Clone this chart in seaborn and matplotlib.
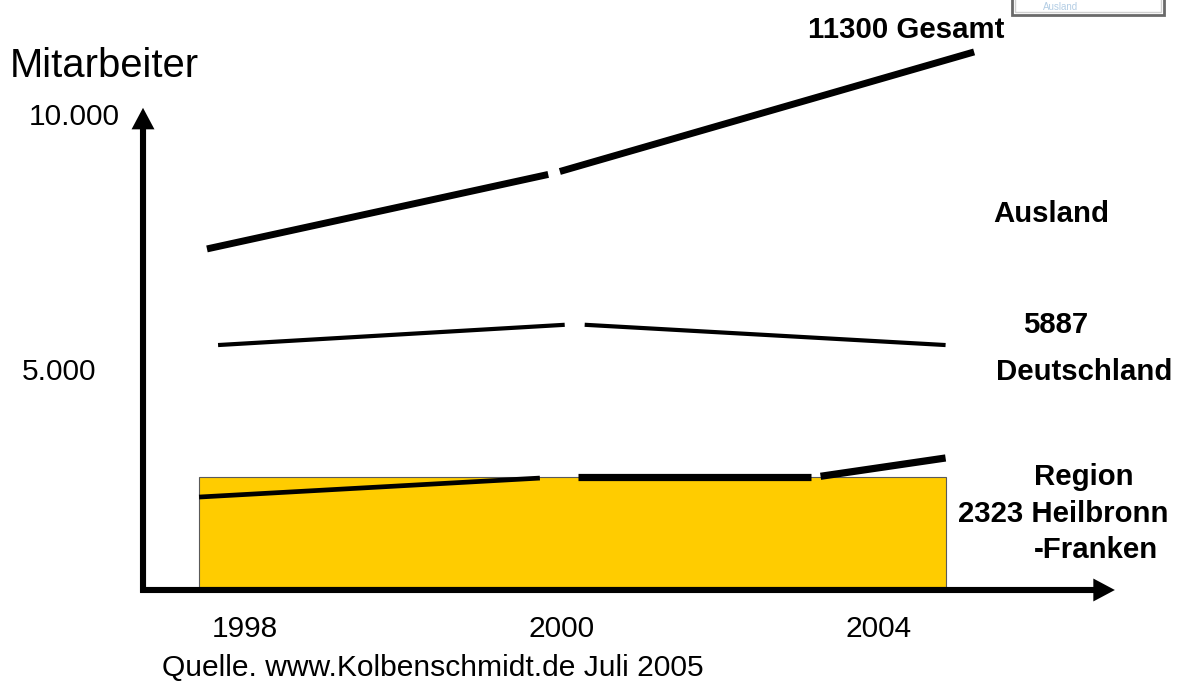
import numpy as np
import matplotlib
matplotlib.use("Agg")
import matplotlib.pyplot as plt
from matplotlib.patches import Rectangle
import seaborn as sns

# ---- data -------------------------------------------------------------
years = ["1998", "2000", "2004"]
year_pos = [0, 1, 2]

gesamt_x = [-0.12, 0.975, 2.30]
gesamt_y = [7140, 8740, 11300]

deutschland_x = [-0.085, 1.04, 2.21]
deutschland_y = [5110, 5550, 5110]
deutschland_total = 5887

region_x = [-0.145, 0.99, 1.80, 2.21]
region_y = [1900, 2323, 2323, 2725]
region_total = 2323
region_span = [-0.145, 2.21]

y_tick_values = [10000, 5000]
y_tick_labels = ["10.000", "5.000"]

# ---- figure -----------------------------------------------------------
sns.set_theme(style="white")
plt.rcParams["font.family"] = ["Liberation Sans", "DejaVu Sans"]
plt.rcParams["text.color"] = "black"

W, H = 1182, 682
fig = plt.figure(figsize=(W / 100, H / 100), dpi=100)
ax = fig.add_axes([0, 0, 1, 1])
ax.set_xlim(-0.7729, 2.9558)
ax.set_ylim(-2006, 12397)
ax.axis("off")


def fx(px):
    return px / W


def fy(py):
    return 1 - py / H


# regional employees as a filled block
ax.bar(region_span[0], region_total, width=region_span[1] - region_span[0],
       align="edge", color="#FFCC00", edgecolor="#5a5a5a", linewidth=0.8,
       zorder=1)


def broken_line(xs, ys, gaps, widths):
    """Draw a polyline whose segments are separated by small gaps (px)."""
    pts = ax.transData.transform(np.column_stack([xs, ys]))
    inv = ax.transData.inverted()
    for i in range(len(xs) - 1):
        a, b = pts[i].copy(), pts[i + 1].copy()
        d = (b - a) / np.hypot(*(b - a))
        a = a + d * gaps[i] / 2
        b = b - d * gaps[i + 1] / 2
        seg = inv.transform(np.vstack([a, b]))
        sns.lineplot(x=seg[:, 0], y=seg[:, 1], ax=ax, color="black",
                     linewidth=widths[i], sort=False, estimator=None,
                     solid_capstyle="butt", zorder=3)


broken_line(gesamt_x, gesamt_y, [0, 12, 0], [5.0, 5.0])
broken_line(deutschland_x, deutschland_y, [0, 20, 0], [3.0, 3.0])
broken_line(region_x, region_y, [0, 38, 10, 0], [3.4, 5.2, 5.2])

# axes drawn as arrows
arrow_kw = dict(arrowstyle="simple,head_length=15.5,head_width=16.5,tail_width=4.4",
                mutation_scale=1, color="black", lw=0, shrinkA=0, shrinkB=0)
x0 = (143 - 245) / 317
ax.annotate("", xy=(x0, 10120), xytext=(x0, -120), arrowprops=arrow_kw,
            zorder=4)
ax.annotate("", xy=(2.744, -63), xytext=(-0.331, -63), arrowprops=arrow_kw,
            zorder=4)

# axis texts
fig.text(fx(10), fy(77), "Mitarbeiter", fontsize=28.8, va="baseline",
         ha="left")
y_label_px = [(29, 125), (22, 380)]
for (lx, ly), lab in zip(y_label_px, y_tick_labels):
    fig.text(fx(lx), fy(ly), lab, fontsize=21.5, va="baseline", ha="left")

for p, lab in zip(year_pos, years):
    xp = ax.transData.transform((p, 0))[0]
    fig.text(xp / W, fy(637), lab, fontsize=21.5, va="baseline",
             ha="center")

fig.text(fx(162), fy(676), "Quelle. www.Kolbenschmidt.de Juli 2005",
         fontsize=21.6, va="baseline", ha="left")

# series labels
bold = dict(fontsize=21.2, fontweight="bold", va="baseline", ha="left")
fig.text(fx(808), fy(38), f"{gesamt_y[-1]} Gesamt", **bold)
fig.text(fx(993), fy(222), "Ausland", **bold)
fig.text(fx(1023), fy(333), f"{deutschland_total}", **bold)
fig.text(fx(996), fy(380), "Deutschland", **bold)
fig.text(fx(1034), fy(485), "Region", **bold)
fig.text(fx(958), fy(522), f"{region_total} Heilbronn", **bold)
fig.text(fx(1034), fy(558), "-Franken", **bold)

# small button in the upper right corner
fig.add_artist(Rectangle((fx(1012), fy(15)), (1164 - 1012) / W, 30 / H,
                         transform=fig.transFigure, facecolor="white",
                         edgecolor="#6a6a6a", linewidth=2.0, zorder=5))
fig.add_artist(Rectangle((fx(1015), fy(12)), (1161 - 1015) / W, 30 / H,
                         transform=fig.transFigure, facecolor="none",
                         edgecolor="#d0d0d0", linewidth=1.0, zorder=5))
fig.text(fx(1061), fy(10), "Ausland", fontsize=7, color="#b3cde4",
         ha="center", va="baseline", zorder=6)

fig.savefig("out.png", dpi=100)
